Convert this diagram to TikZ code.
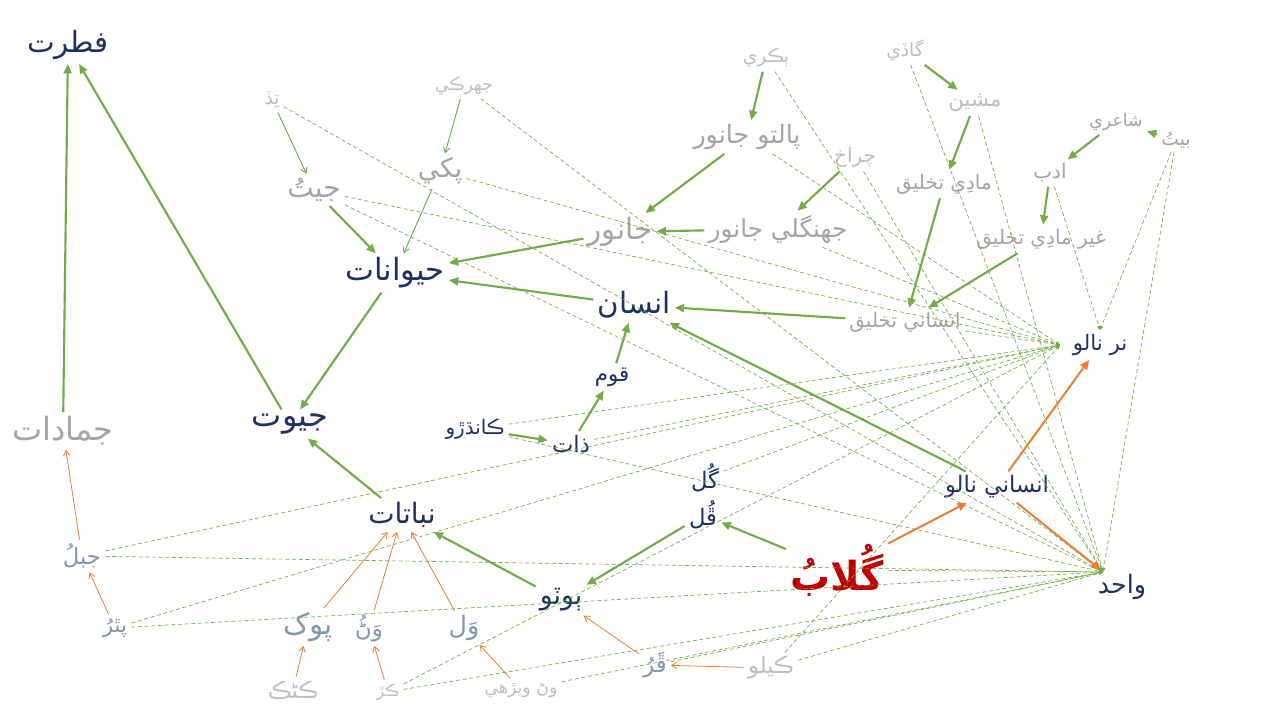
\documentclass[tikz,border=0pt]{standalone}
\usepackage{fontspec}
\usetikzlibrary{arrows.meta}
\TeXXeTstate=1
\newfontfamily\sdfont[Script=Arabic]{DejaVu Sans}
\newcommand\sd[1]{\beginR #1\endR}
\definecolor{navy}{HTML}{1F3164}
\definecolor{greyA}{HTML}{A5A5A5}
\definecolor{greyB}{HTML}{BFBFBF}
\definecolor{bluegrey}{HTML}{8497B0}
\definecolor{lgreen}{HTML}{70AD47}
\definecolor{lorange}{HTML}{ED7D31}
\definecolor{rosered}{HTML}{C00000}
\begin{document}
\begin{tikzpicture}[x=0.75pt,y=-0.75pt,
  fs/.style={font=\sdfont\fontsize{#1}{#1}\selectfont},
  fsb/.style={font=\sdfont\bfseries\fontsize{#1}{#1}\selectfont},
  lab/.style={inner sep=3pt},
  nv/.style={lab,text=navy},
  gr/.style={lab,text=greyA},
  lg/.style={lab,text=greyB},
  bg/.style={lab,text=bluegrey},
  gth/.style={draw=lgreen,line width=1.6pt,-{Triangle[length=7pt,width=6pt]}},
  gtn/.style={draw=lgreen,line width=0.7pt,-{Straight Barb[length=4pt,width=5pt]}},
  oth/.style={draw=lorange,line width=1.5pt,-{Triangle[length=7pt,width=6pt]}},
  otn/.style={draw=lorange,line width=0.6pt,-{Straight Barb[length=4pt,width=5pt]}},
  dsh/.style={draw=lgreen,line width=0.5pt,dash pattern=on 3pt off 2pt,-{Triangle[length=3pt,width=2.5pt]}}]
\useasboundingbox (0,0) rectangle (1280,720);
% nodes
\node[nv,fs=22] (fitrat) at (68,45) {\sd{فطرت}};
\node[gr,fs=24] (jamadat) at (63,431) {\sd{جمادات}};
\node[nv,fs=24] (jeeot) at (290,424) {\sd{جيوت}};
\node[nv,fs=23] (haiwanat) at (395,273) {\sd{حيوانات}};
\node[nv,fs=22] (insan) at (634,305) {\sd{انسان}};
\node[nv,fs=21] (nabatat) at (402,515) {\sd{نباتات}};
\node[gr,fs=22] (jaanwar) at (620,232) {\sd{جانور}};
\node[gr,fs=20] (pakhi) at (440,171) {\sd{پکي}};
\node[gr,fs=21] (jeet) at (314,190) {\sd{جيتُ}};
\node[lg,fs=14] (tid) at (272,100) {\sd{تِڏ}};
\node[lg,fs=13] (jharki) at (464,86) {\sd{جهرڪي}};
\node[lg,fs=14] (bakri) at (766,58) {\sd{ٻڪري}};
\node[gr,fs=19] (paltu) at (747,137) {\sd{پالتو جانور}};
\node[lg,fs=15] (chrakh) at (855,157) {\sd{چراخ}};
\node[gr,fs=18.5] (jhangli) at (778,229) {\sd{جهنگلي جانور}};
\node[lg,fs=14] (gadi) at (905,50) {\sd{گاڏي}};
\node[lg,fs=16] (mashin) at (975,103) {\sd{مشين}};
\node[gr,fs=15] (maadi) at (944,184) {\sd{مادِي تخليق}};
\node[gr,fs=13] (shairi) at (1116,122) {\sd{شاعري}};
\node[gr,fs=14] (beet) at (1176,140) {\sd{بيتُ}};
\node[gr,fs=15] (adab) at (1050,173) {\sd{ادب}};
\node[gr,fs=15] (ghair) at (1041,239) {\sd{غير مادِي تخليق}};
\node[gr,fs=15] (insTak) at (905,322) {\sd{انساني تخليق}};
\node[nv,fs=16] (nr) at (1100,345) {\sd{نر نالو}};
\node[nv,fs=16] (qaum) at (612,377) {\sd{قوم}};
\node[nv,fs=15] (kandhro) at (475,429) {\sd{ڪانڌڙو}};
\node[nv,fs=17] (zaat) at (571,444) {\sd{ذات}};
\node[nv,fs=17] (gul) at (705,478) {\sd{گُل}};
\node[nv,fs=17] (phul) at (703,515) {\sd{ڦُل}};
\node[nv,fs=17] (insNalo) at (997,487) {\sd{انساني نالو}};
\node[lab,text=rosered,fsb=30] (gulab) at (837,570) {\sd{گُلابُ}};
\node[nv,fs=20] (botu) at (561,600) {\sd{ٻوٽو}};
\node[nv,fs=19] (wahid) at (1122,587) {\sd{واحد}};
\node[bg,fs=17] (jabal) at (82,556) {\sd{جبلُ}};
\node[bg,fs=16] (pathar) at (115,628) {\sd{پٿرُ}};
\node[bg,fs=22] (pok) at (308,627) {\sd{پوک}};
\node[bg,fs=17] (wann) at (369,628) {\sd{وَڻُ}};
\node[bg,fs=19] (wal) at (464,628) {\sd{وَل}};
\node[bg,fs=17] (phar) at (655,665) {\sd{ڦَرُ}};
\node[lg,fs=17] (kelo) at (771,668) {\sd{ڪيلو}};
\node[lg,fs=17] (kanak) at (293,690) {\sd{ڪڻڪ}};
\node[lg,fs=12] (kirr) at (388,692) {\sd{ڪڙ}};
\node[lg,fs=13] (weerhi) at (521,690) {\sd{وڻ ويڙهي}};
\coordinate (nrP) at (1060,345);
\coordinate (waP) at (1103,572);
% dashed links
\foreach \s in {pakhi,jeet,paltu,jhangli,insTak,kandhro,zaat,gul,kirr,kelo,jabal,pathar}
  \draw[dsh] (\s) -- (nrP);
\draw[dsh] (adab) -- (nr.north);
\draw[dsh] (beet) -- (nr.north);
\foreach \s in {tid,jharki,bakri,gadi,mashin,chrakh,beet,jeet,kandhro,gulab,jabal,pathar,kirr,weerhi,phar,kelo}
  \draw[dsh] (\s) -- (waP);
% green thick
\draw[gth] (jamadat) -- (fitrat);
\draw[gth] (jeeot) -- (fitrat);
\draw[gth] (haiwanat) -- (jeeot);
\draw[gth] (jeet) -- (haiwanat);
\draw[gth] (jaanwar) -- (haiwanat);
\draw[gth] (insan) -- (haiwanat);
\draw[gth] (bakri) -- (paltu);
\draw[gth] (paltu) -- (jaanwar);
\draw[gth] (jhangli) -- (jaanwar);
\draw[gth] (chrakh) -- (jhangli);
\draw[gth] (gadi) -- (mashin);
\draw[gth] (mashin) -- (maadi);
\draw[gth] (maadi) -- (insTak);
\draw[gth] (ghair) -- (insTak);
\draw[gth] (shairi) -- (adab);
\draw[gth] (beet) -- (shairi);
\draw[gth] (adab) -- (ghair);
\draw[gth] (insTak) -- (insan);
\draw[gth] (insNalo) -- (insan);
\draw[gth] (qaum) -- (insan);
\draw[gth] (zaat) -- (qaum);
\draw[gth] (kandhro) -- (zaat);
\draw[gth] (nabatat) -- (jeeot);
\draw[gth] (botu) -- (nabatat);
\draw[gth] (phul) -- (botu);
\draw[gth] (gulab) -- (phul);
% green thin
\draw[gtn] (tid) -- (jeet);
\draw[gtn] (jharki) -- (pakhi);
\draw[gtn] (pakhi) -- (haiwanat);
% orange
\draw[oth] (gulab) -- (insNalo);
\draw[oth] (insNalo) -- (nr);
\draw[oth] (insNalo) -- (wahid);
\draw[otn] (jabal) -- (jamadat);
\draw[otn] (pathar) -- (jabal);
\draw[otn] (pok) -- (nabatat);
\draw[otn] (wann) -- (nabatat);
\draw[otn] (wal) -- (nabatat);
\draw[otn] (kanak) -- (pok);
\draw[otn] (kirr) -- (wann);
\draw[otn] (weerhi) -- (wal);
\draw[otn] (phar) -- (botu);
\draw[otn] (kelo) -- (phar);
\end{tikzpicture}
\end{document}
